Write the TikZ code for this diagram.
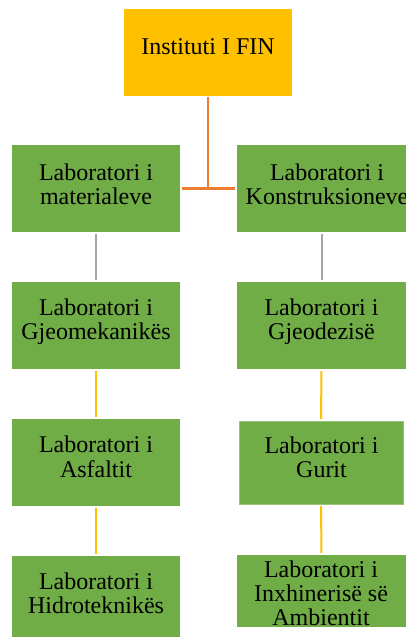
\documentclass[tikz,border=0pt]{standalone}
\usepackage{fontspec}
\setmainfont{Liberation Serif}
\definecolor{boxgreen}{RGB}{112,173,71}
\definecolor{boxgold}{RGB}{255,192,0}
\definecolor{lineorange}{RGB}{237,125,49}
\definecolor{linegray}{RGB}{165,165,165}
\definecolor{lineyellow}{RGB}{255,192,0}
\definecolor{edgegreen}{RGB}{150,195,120}
\tikzset{
  box/.style={rectangle, inner sep=0pt, outer sep=0pt, minimum width=168pt, minimum height=87pt, fill=boxgreen},
  label/.style={inner sep=0pt, outer sep=0pt, align=center, font=\fontsize{24}{24}\selectfont},
  orangeline/.style={draw=lineorange, line width=2.5pt},
  grayline/.style={draw=linegray, line width=2pt, shorten <=2pt, shorten >=2pt},
  yellowline/.style={draw=lineyellow, line width=2pt, shorten <=2pt, shorten >=2pt}
}
\begin{document}
\begin{tikzpicture}[x=1pt,y=-1pt]
\useasboundingbox (0,0) rectangle (406,637);
\clip (0,0) rectangle (406,637);
% boxes
\node[box, fill=boxgold] (top) at (208,52.5) {};
\node[box] (L1) at (96,188.5) {};
\node[box, minimum width=169pt] (R1) at (321.5,188.5) {};
\node[box] (L2) at (96,325.5) {};
\node[box, minimum width=169pt] (R2) at (321.5,325.5) {};
\node[box] (L3) at (96,462.5) {};
\node[box, minimum width=164pt, minimum height=83pt, draw=edgegreen, line width=0.8pt] (R3) at (321,462.5) {};
\node[box, minimum height=81pt] (L4) at (96,596.5) {};
\node[box, minimum width=169pt, minimum height=72pt] (R4) at (321.5,591.2) {};
% texts
\node[label] (ttop) at (208,49.2) {\strut Instituti I FIN\strut};
\node[label] (tL1) at (96,187.2) {\strut Laboratori i\\materialeve\strut};
\node[label] (tR1) at (327,187.2) {\strut Laboratori i\\Konstruksioneve\strut};
\node[label] (tL2) at (96,322.9) {\strut Laboratori i\\Gjeomekanikës\strut};
\node[label] (tR2) at (321.5,322.9) {\strut Laboratori i\\Gjeodezisë\strut};
\node[label] (tL3) at (96,459.9) {\strut Laboratori i\\Asfaltit\strut};
\node[label] (tR3) at (321.5,460.5) {\strut Laboratori i\\Gurit\strut};
\node[label] (tL4) at (96,596.5) {\strut Laboratori i\\Hidroteknikës\strut};
\node[label] (tR4) at (321,596.5) {\strut Laboratori i\\Inxhinerisë së\\Ambientit\strut};
% connectors
\coordinate (junc) at (top.south |- 0,188.7);
\draw[orangeline, shorten <=1pt] (top.south) -- (junc);
\draw[orangeline, shorten <=1.7pt, shorten >=1.7pt] (L1.east |- junc) -- (R1.west |- junc);
\draw[grayline] (L1.south) -- (L2.north);
\draw[grayline] (R1.south) -- (R2.north);
\draw[yellowline] (L2.south) -- (L3.north);
\draw[yellowline] (L3.south) -- (L4.north);
\draw[yellowline] (R2.south) -- (R3.north);
\draw[yellowline] (R3.south) -- (R4.north);
\end{tikzpicture}
\end{document}
